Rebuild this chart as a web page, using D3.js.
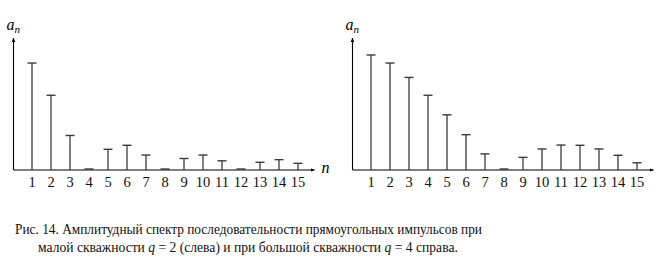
<!DOCTYPE html>
<html>
<head>
<meta charset="utf-8">
<script src="https://cdn.jsdelivr.net/npm/d3@7"></script>
<style>
  body { margin: 0; background: #fff; }
  svg { display: block; }
  svg text { font-family: "Liberation Serif", serif; }
  .preload { position: absolute; left: 0; top: 0; font-family: "Liberation Serif"; font-size: 14px; color: #fff; z-index: -1; }
</style>
</head>
<body>
<div class="preload">Рис 0123456789 <i>anq</i></div>
<script>
// harmonic numbers
var harmonics = [1, 2, 3, 4, 5, 6, 7, 8, 9, 10, 11, 12, 13, 14, 15];
// amplitudes (relative units)
var leftAmps = [0.93, 0.65, 0.30, 0, 0.18, 0.215, 0.13, 0, 0.10, 0.13, 0.08, 0, 0.067, 0.09, 0.058];
var rightAmps = [1.0, 0.93, 0.805, 0.65, 0.48, 0.307, 0.14, 0, 0.11, 0.183, 0.217, 0.215, 0.183, 0.128, 0.063];
var captionLine1 = "Рис. 14. Амплитудный спектр последовательности прямоугольных импульсов при";
var captionLine2 = [
  {t: "малой скважности ", i: false},
  {t: "q", i: true},
  {t: " = 2 (слева) и при большой скважности ", i: false},
  {t: "q", i: true},
  {t: " = 4 справа.", i: false}
];

var width = 657, height = 262;
var svg = d3.select("body").append("svg")
  .attr("width", width)
  .attr("height", height)
  .style("position", "relative")
  .style("background", "#fff");

var defs = svg.append("defs");
defs.append("marker")
  .attr("id", "arrow")
  .attr("viewBox", "0 0 10 10")
  .attr("refX", 9).attr("refY", 5)
  .attr("markerWidth", 4).attr("markerHeight", 4)
  .attr("orient", "auto")
  .append("path")
  .attr("d", "M0,1 L10,5 L0,9 Z")
  .attr("fill", "#000");

var baseY = 170;
var yScale = d3.scaleLinear().domain([0, 1]).range([baseY, baseY - 115]);

var drawSpectrum = function(x0, amps, showN) {
  // x0 = y-axis position
  var xScale = d3.scaleLinear().domain([1, 15]).range([x0 + 18.5, x0 + 284.5]);
  var g = svg.append("g");

  // axes
  g.append("line")
    .attr("x1", x0).attr("y1", baseY)
    .attr("x2", x0).attr("y2", 38)
    .attr("stroke", "#000").attr("stroke-width", 1.1)
    .attr("marker-end", "url(#arrow)");
  g.append("line")
    .attr("x1", x0).attr("y1", baseY)
    .attr("x2", x0 + 301).attr("y2", baseY)
    .attr("stroke", "#000").attr("stroke-width", 1.1)
    .attr("marker-end", "url(#arrow)");

  var label = g.append("text")
    .attr("x", x0 - 7).attr("y", 30)
    .attr("font-size", 16).attr("font-style", "italic");
  label.append("tspan").text("a");
  label.append("tspan").attr("dy", 3).attr("font-size", 11).text("n");

  if (showN) {
    g.append("text")
      .attr("x", x0 + 308).attr("y", baseY + 3)
      .attr("font-size", 16).attr("font-style", "italic")
      .text("n");
  }

  // stems
  g.selectAll(".stem").data(amps).enter().append("line")
    .attr("x1", function(d, i) { return xScale(harmonics[i]); })
    .attr("x2", function(d, i) { return xScale(harmonics[i]); })
    .attr("y1", baseY)
    .attr("y2", function(d) { return yScale(d); })
    .attr("stroke", "#4a4a4a").attr("stroke-width", 1.4);

  // caps
  g.selectAll(".cap").data(amps).enter().append("line")
    .attr("x1", function(d, i) { return xScale(harmonics[i]) - 4.5; })
    .attr("x2", function(d, i) { return xScale(harmonics[i]) + 4.5; })
    .attr("y1", function(d) { return yScale(d) - (d == 0 ? 1 : 0); })
    .attr("y2", function(d) { return yScale(d) - (d == 0 ? 1 : 0); })
    .attr("stroke", "#3a3a3a").attr("stroke-width", 1.4);

  // tick labels
  g.selectAll(".tl").data(harmonics).enter().append("text")
    .attr("x", function(d) { return xScale(d); })
    .attr("y", 187)
    .attr("text-anchor", "middle")
    .attr("font-size", 14.5)
    .attr("fill", "#111")
    .text(function(d) { return d; });
};

drawSpectrum(13.5, leftAmps, true);
drawSpectrum(352.5, rightAmps, false);

// caption
svg.append("text")
  .attr("x", 15).attr("y", 234)
  .attr("textLength", 467).attr("lengthAdjust", "spacingAndGlyphs")
  .attr("font-size", 14)
  .attr("fill", "#111")
  .text(captionLine1);

var c2 = svg.append("text")
  .attr("x", 38).attr("y", 252)
  .attr("font-size", 13.6)
  .attr("fill", "#111");
c2.selectAll("tspan").data(captionLine2).enter().append("tspan")
  .attr("font-style", function(d) { return d.i ? "italic" : "normal"; })
  .text(function(d) { return d.t; });
</script>
</body>
</html>
